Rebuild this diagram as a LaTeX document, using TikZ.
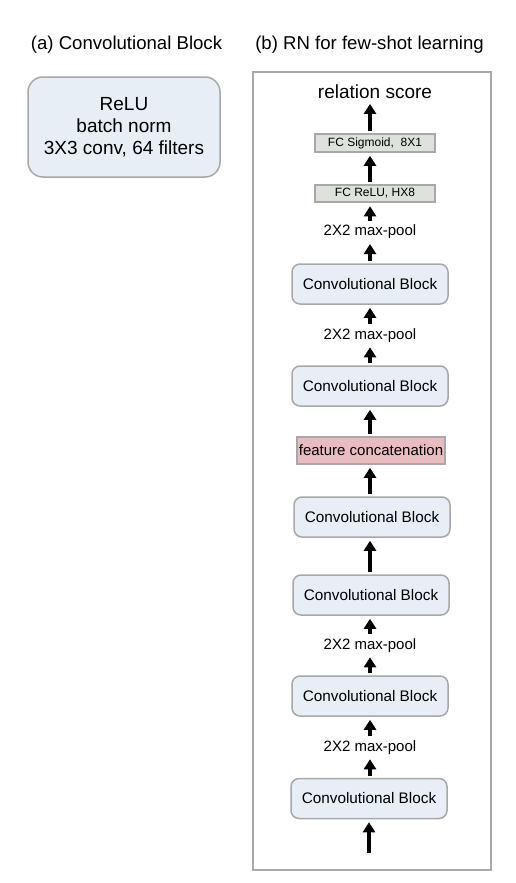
\documentclass[tikz,border=0pt]{standalone}
\usepackage{fontspec}
\setmainfont{Liberation Sans}
\usetikzlibrary{arrows.meta}

\definecolor{blockfill}{HTML}{E8EEF5}
\definecolor{blockline}{HTML}{A8A8A8}
\definecolor{fcfill}{HTML}{DDE3DB}
\definecolor{concatfill}{HTML}{E9BDBF}

\begin{document}
\begin{tikzpicture}[x=1pt, y=-1pt,
  convblock/.style={draw=blockline, fill=blockfill, line width=1.5pt, rounded corners=8pt, minimum width=156pt, minimum height=40pt, inner sep=0pt, font=\fontsize{15.3}{18}\selectfont},
  fclayer/.style={draw=blockline, fill=fcfill, line width=2pt, minimum width=120pt, minimum height=17.5pt, inner sep=0pt, font=\fontsize{12}{14}\selectfont},
  poollabel/.style={anchor=base, inner sep=2pt, font=\fontsize{15}{18}\selectfont},
  flow/.style={line width=4pt, -{Triangle[width=12pt, length=10pt]}, shorten <=2pt, shorten >=3pt}]
\useasboundingbox (0, 0) rectangle (516, 883);

\node[anchor=base, font=\fontsize{18.6}{22}\selectfont] (titleA) at (126.5, 49.5) {(a) Convolutional Block};
\node[anchor=base, font=\fontsize{18.6}{22}\selectfont] (titleB) at (369.5, 49.5) {(b) RN for few-shot learning};

\node[draw=blockline, fill=blockfill, line width=1.5pt, rounded corners=15pt, minimum width=192pt, minimum height=100pt, align=center, font=\fontsize{19}{22}\selectfont] (convdetail) at (124, 127) {ReLU\\batch norm\\3X3 conv, 64 filters};

\draw[draw=blockline, line width=1.5pt] (253, 72) rectangle (491, 870);

\node[anchor=base, inner sep=2pt, font=\fontsize{19}{22}\selectfont] (score) at (375, 98.5) {relation score};
\node[fclayer] (sigmoid) at (375, 143) {FC Sigmoid,\ \ 8X1};
\node[fclayer] (relu) at (375, 193.5) {FC ReLU,\ HX8};
\node[poollabel] (pool1) at (370, 235.7) {2X2 max-pool};
\node[convblock] (conv1) at (370, 284) {Convolutional Block};
\node[poollabel] (pool2) at (370, 339) {2X2 max-pool};
\node[convblock] (conv2) at (370, 386) {Convolutional Block};
\node[draw=blockline, fill=concatfill, line width=1.5pt, minimum width=148pt, minimum height=27pt, inner sep=0pt, font=\fontsize{15}{18}\selectfont] (concat) at (371, 450.5) {feature concatenation};
\node[convblock] (conv3) at (372, 517) {Convolutional Block};
\node[convblock] (conv4) at (371, 595) {Convolutional Block};
\node[poollabel] (pool3) at (370, 649) {2X2 max-pool};
\node[convblock] (conv5) at (370, 696) {Convolutional Block};
\node[poollabel] (pool4) at (370, 751) {2X2 max-pool};
\node[convblock] (conv6) at (369, 798.5) {Convolutional Block};
\coordinate (input) at (369, 855);

\draw[flow] (sigmoid.north -| conv1) -- (score.south -| conv1);
\draw[flow] (relu.north -| conv1) -- (sigmoid.south -| conv1);
\draw[flow] (pool1) -- (relu.south -| pool1);
\draw[flow] (conv1) -- (pool1);
\draw[flow] (pool2) -- (conv1);
\draw[flow] (conv2) -- (pool2);
\draw[flow] (concat.north -| conv2) -- (conv2);
\draw[flow] (conv3.north -| conv2) -- (concat.south -| conv2);
\draw[flow] (conv4.north -| conv2) -- (conv3.south -| conv2);
\draw[flow] (pool3) -- (conv4.south -| pool3);
\draw[flow] (conv5) -- (pool3);
\draw[flow] (pool4) -- (conv5);
\draw[flow] (conv6.north -| pool4) -- (pool4);
\draw[flow] (input) -- (conv6);
\end{tikzpicture}
\end{document}
